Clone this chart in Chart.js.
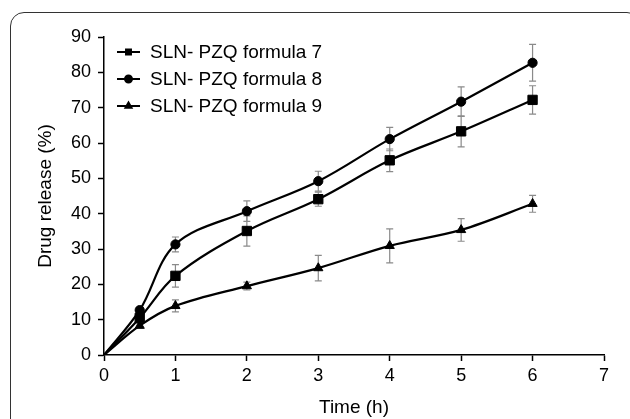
<!DOCTYPE html>
<html>
<head>
<meta charset="utf-8">
<script src="https://cdn.jsdelivr.net/npm/chart.js@4.4.1/dist/chart.umd.min.js"></script>
<style>
  html, body { margin: 0; padding: 0; background: #fff; overflow: hidden; }
  #wrap { position: relative; width: 630px; height: 419px; overflow: hidden; }
  #frame {
    position: absolute; left: 10px; top: 12px; width: 631px; height: 500px;
    border: 1.3px solid #333; border-radius: 14px; box-sizing: border-box;
  }
  #c { position: absolute; left: 0; top: 0; }
</style>
</head>
<body>
<div id="wrap">
  <div id="frame"></div>
  <canvas id="c" width="630" height="419"></canvas>
</div>
<script>
// Time points (h) and release values (%)
var times = [0, 0.5, 1, 2, 3, 4, 5, 6];
var f7 = [0, 10.5, 22.4, 35.1, 44.1, 55.1, 63.3, 72.2];
var f8 = [0, 12.7, 31.3, 40.7, 49.2, 61.1, 71.7, 82.7];
var f9 = [0, 8.3, 13.9, 19.5, 24.6, 30.9, 35.4, 42.8];
var f7Err = [0, 0.8, 3.2, 4.3, 2.0, 3.2, 4.4, 4.0];
var f8Err = [0, 0.8, 2.1, 2.9, 2.8, 3.3, 4.2, 5.2];
var f9Err = [0, 0.6, 1.7, 1.1, 3.6, 4.8, 3.2, 2.4];
var seriesNames = ["SLN- PZQ formula 7", "SLN- PZQ formula 8", "SLN- PZQ formula 9"];
var xTicks = [0, 1, 2, 3, 4, 5, 6, 7];
var yTicks = [0, 10, 20, 30, 40, 50, 60, 70, 80, 90];

function toPoints(vals) {
  return times.map(function (t, i) { return { x: t, y: vals[i] }; });
}

function makeSet(label, vals, errs, style, radius) {
  return {
    label: label,
    data: toPoints(vals),
    errors: errs,
    borderColor: "#000",
    backgroundColor: "#000",
    borderWidth: 2.2,
    tension: 0.35,
    pointStyle: style,
    pointRadius: function (ctx) { return ctx.dataIndex === 0 ? 0 : radius; },
    pointBorderWidth: 1,
    pointBackgroundColor: "#000",
    pointBorderColor: "#000",
  };
}

// Gray error bars with caps
var errorBars = {
  id: "errorBars",
  beforeDatasetsDraw: function (chart) {
    var ctx = chart.ctx;
    var xs = chart.scales.x, ys = chart.scales.y;
    ctx.save();
    ctx.strokeStyle = "#8a8a8a";
    ctx.lineWidth = 1.2;
    chart.data.datasets.forEach(function (ds) {
      ds.data.forEach(function (p, i) {
        var e = ds.errors[i];
        if (!e) return;
        var px = xs.getPixelForValue(p.x);
        var top = ys.getPixelForValue(p.y + e);
        var bot = ys.getPixelForValue(p.y - e);
        ctx.beginPath();
        ctx.moveTo(px, top); ctx.lineTo(px, bot);
        ctx.moveTo(px - 3.5, top); ctx.lineTo(px + 3.5, top);
        ctx.moveTo(px - 3.5, bot); ctx.lineTo(px + 3.5, bot);
        ctx.stroke();
      });
    });
    ctx.restore();
  },
};

// Legend in the upper-left of the plot: short line with a small marker
var insideLegend = {
  id: "insideLegend",
  afterDraw: function (chart) {
    var ctx = chart.ctx;
    var rows = [52, 79, 106];
    ctx.save();
    chart.data.datasets.forEach(function (ds, i) {
      var y = rows[i];
      ctx.strokeStyle = "#000";
      ctx.lineWidth = 2;
      ctx.beginPath();
      ctx.moveTo(117, y); ctx.lineTo(140, y);
      ctx.stroke();
      Chart.helpers.drawPoint(ctx, { pointStyle: ds.pointStyle, radius: 3.5, borderWidth: 1 }, 128.5, y);
      ctx.fillStyle = "#000";
      ctx.fill();
      ctx.font = "19px 'Liberation Sans', Arial, sans-serif";
      ctx.textBaseline = "middle";
      ctx.fillText(ds.label, 150, y + 1);
    });
    ctx.restore();
  },
};

var font = { family: "'Liberation Sans', Arial, sans-serif", size: 18 };
var titleFont = { family: "'Liberation Sans', Arial, sans-serif", size: 19 };

new Chart(document.getElementById("c"), {
  type: "line",
  data: {
    datasets: [
      makeSet(seriesNames[0], f7, f7Err, "rect", 6.6),
      makeSet(seriesNames[1], f8, f8Err, "circle", 4.6),
      makeSet(seriesNames[2], f9, f9Err, "triangle", 5.3),
    ],
  },
  options: {
    responsive: false,
    animation: false,
    events: [],
    layout: { padding: { left: 0, top: 37, right: 26, bottom: 0 } },
    plugins: { legend: { display: false }, tooltip: { enabled: false } },
    scales: {
      x: {
        type: "linear",
        min: 0,
        max: 7,
        afterFit: function (s) { s.height = 64; },
        afterBuildTicks: function (s) { s.ticks = xTicks.map(function (v) { return { value: v }; }); },
        border: { color: "#000", width: 1.5 },
        grid: { drawOnChartArea: false, drawTicks: true, tickLength: 6, tickColor: "#000", tickWidth: 1.5 },
        ticks: { color: "#000", font: font, padding: 4, maxRotation: 0 },
        title: { display: true, text: "Time (h)", color: "#000", font: titleFont, padding: { top: 0, bottom: 0 } },
      },
      y: {
        min: 0,
        max: 90,
        afterFit: function (s) { s.width = 104; },
        afterBuildTicks: function (s) { s.ticks = yTicks.map(function (v) { return { value: v }; }); },
        border: { color: "#000", width: 1.5 },
        grid: { drawOnChartArea: false, drawTicks: true, tickLength: 6, tickColor: "#000", tickWidth: 1.5 },
        ticks: { color: "#000", font: font, padding: 7 },
        title: { display: true, text: "Drug release (%)", color: "#000", font: titleFont, padding: { top: 34, bottom: 0 } },
      },
    },
  },
  plugins: [errorBars, insideLegend],
});
</script>
</body>
</html>
